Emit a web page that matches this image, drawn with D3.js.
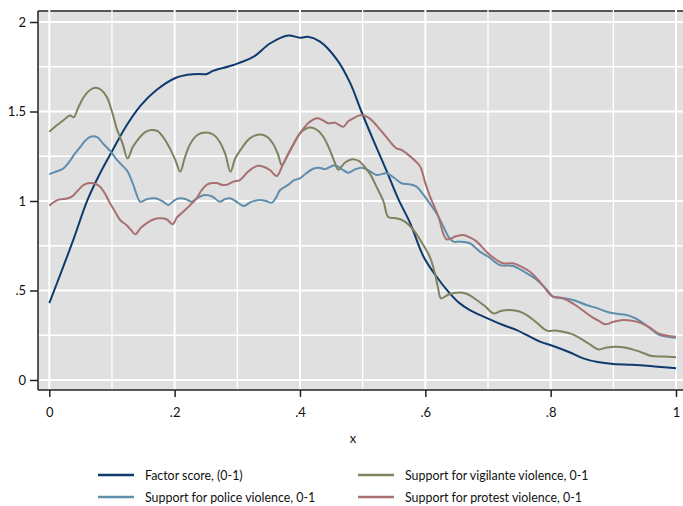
<!DOCTYPE html>
<html>
<head>
<meta charset="utf-8">
<script src="https://cdn.jsdelivr.net/npm/d3@7"></script>
<style>
  body { margin: 0; background: #fff; }
  text { font-family: Lato, "Open Sans", sans-serif; fill: #111; }
</style>
</head>
<body>
<div id="chart"></div>
<script>
// 読み取った値（x, y のペア）
const factorX = [0, 0.022, 0.04, 0.061, 0.081, 0.102, 0.123, 0.145, 0.171, 0.203, 0.22, 0.24, 0.25, 0.262, 0.294, 0.326, 0.352, 0.381, 0.40, 0.413, 0.432, 0.459, 0.48, 0.498, 0.517, 0.538, 0.557, 0.576, 0.597, 0.618, 0.639, 0.655, 0.671, 0.693, 0.724, 0.746, 0.783, 0.804, 0.83, 0.852, 0.875, 0.90, 0.93, 0.959, 1.0];
const factorY = [0.43, 0.63, 0.80, 1.006, 1.155, 1.29, 1.42, 1.53, 1.62, 1.69, 1.705, 1.71, 1.708, 1.728, 1.76, 1.806, 1.88, 1.925, 1.912, 1.918, 1.89, 1.79, 1.66, 1.50, 1.34, 1.17, 1.01, 0.875, 0.69, 0.577, 0.484, 0.428, 0.391, 0.354, 0.307, 0.279, 0.214, 0.19, 0.155, 0.121, 0.10, 0.089, 0.085, 0.078, 0.065];

const policeX = [0, 0.011, 0.022, 0.03, 0.04, 0.049, 0.058, 0.067, 0.077, 0.086, 0.097, 0.108, 0.116, 0.124, 0.133, 0.14, 0.145, 0.157, 0.169, 0.18, 0.19, 0.2, 0.209, 0.218, 0.227, 0.238, 0.248, 0.26, 0.272, 0.28, 0.288, 0.297, 0.31, 0.322, 0.336, 0.346, 0.355, 0.362, 0.368, 0.381, 0.39, 0.40, 0.41, 0.421, 0.432, 0.44, 0.456, 0.466, 0.477, 0.487, 0.498, 0.51, 0.522, 0.538, 0.55, 0.562, 0.575, 0.586, 0.596, 0.607, 0.618, 0.629, 0.637, 0.645, 0.655, 0.671, 0.687, 0.70, 0.719, 0.74, 0.76, 0.778, 0.795, 0.804, 0.82, 0.836, 0.857, 0.875, 0.895, 0.921, 0.935, 0.948, 0.962, 0.974, 1.0];
const policeY = [1.15, 1.165, 1.18, 1.21, 1.26, 1.30, 1.34, 1.36, 1.355, 1.32, 1.28, 1.23, 1.20, 1.17, 1.10, 1.03, 0.996, 1.012, 1.015, 1.0, 0.978, 1.005, 1.015, 1.01, 0.996, 1.02, 1.033, 1.025, 0.996, 1.01, 1.015, 1.0, 0.972, 0.995, 1.006, 1.0, 0.99, 1.02, 1.06, 1.09, 1.115, 1.127, 1.155, 1.18, 1.185, 1.178, 1.20, 1.18, 1.158, 1.175, 1.186, 1.17, 1.145, 1.155, 1.13, 1.099, 1.093, 1.08, 1.04, 0.987, 0.93, 0.857, 0.80, 0.773, 0.773, 0.764, 0.717, 0.69, 0.642, 0.637, 0.60, 0.559, 0.50, 0.465, 0.458, 0.447, 0.419, 0.40, 0.376, 0.363, 0.345, 0.317, 0.28, 0.251, 0.236];

const vigilanteX = [0, 0.011, 0.022, 0.033, 0.039, 0.046, 0.054, 0.063, 0.073, 0.083, 0.092, 0.100, 0.108, 0.117, 0.125, 0.133, 0.143, 0.153, 0.163, 0.173, 0.183, 0.193, 0.201, 0.209, 0.216, 0.225, 0.237, 0.25, 0.262, 0.272, 0.281, 0.289, 0.297, 0.308, 0.32, 0.335, 0.347, 0.357, 0.365, 0.371, 0.378, 0.387, 0.40, 0.41, 0.418, 0.428, 0.437, 0.447, 0.455, 0.461, 0.472, 0.483, 0.493, 0.501, 0.512, 0.522, 0.533, 0.541, 0.55, 0.56, 0.571, 0.581, 0.594, 0.607, 0.615, 0.62, 0.625, 0.637, 0.65, 0.665, 0.682, 0.696, 0.709, 0.72, 0.735, 0.75, 0.762, 0.778, 0.794, 0.807, 0.82, 0.835, 0.847, 0.862, 0.876, 0.89, 0.905, 0.92, 0.937, 0.95, 0.961, 0.98, 1.0];
const vigilanteY = [1.387, 1.42, 1.45, 1.477, 1.468, 1.52, 1.575, 1.615, 1.632, 1.62, 1.58, 1.50, 1.40, 1.32, 1.238, 1.30, 1.35, 1.385, 1.397, 1.39, 1.35, 1.29, 1.23, 1.164, 1.24, 1.32, 1.37, 1.382, 1.37, 1.33, 1.26, 1.164, 1.24, 1.30, 1.35, 1.372, 1.36, 1.32, 1.26, 1.20, 1.24, 1.30, 1.378, 1.405, 1.41, 1.395, 1.36, 1.29, 1.22, 1.175, 1.215, 1.233, 1.225, 1.20, 1.15, 1.08, 1.00, 0.91, 0.905, 0.898, 0.875, 0.838, 0.77, 0.689, 0.60, 0.52, 0.456, 0.478, 0.488, 0.483, 0.447, 0.41, 0.372, 0.385, 0.391, 0.383, 0.363, 0.32, 0.276, 0.277, 0.27, 0.255, 0.233, 0.20, 0.171, 0.182, 0.186, 0.18, 0.164, 0.148, 0.134, 0.131, 0.127];

const protestX = [0, 0.014, 0.03, 0.038, 0.046, 0.055, 0.065, 0.074, 0.081, 0.089, 0.097, 0.105, 0.113, 0.123, 0.13, 0.137, 0.146, 0.155, 0.165, 0.174, 0.187, 0.197, 0.204, 0.211, 0.222, 0.235, 0.243, 0.251, 0.259, 0.267, 0.276, 0.283, 0.294, 0.304, 0.316, 0.325, 0.333, 0.343, 0.352, 0.363, 0.371, 0.379, 0.39, 0.40, 0.413, 0.421, 0.429, 0.437, 0.445, 0.456, 0.469, 0.477, 0.485, 0.498, 0.508, 0.517, 0.525, 0.533, 0.544, 0.554, 0.562, 0.57, 0.582, 0.592, 0.6, 0.607, 0.621, 0.634, 0.65, 0.661, 0.672, 0.682, 0.703, 0.724, 0.74, 0.755, 0.767, 0.785, 0.802, 0.815, 0.826, 0.845, 0.863, 0.877, 0.887, 0.9, 0.916, 0.937, 0.955, 0.974, 1.0];
const protestY = [0.974, 1.006, 1.015, 1.03, 1.06, 1.09, 1.10, 1.095, 1.08, 1.04, 0.987, 0.94, 0.894, 0.866, 0.84, 0.814, 0.85, 0.875, 0.895, 0.903, 0.898, 0.87, 0.91, 0.931, 0.968, 1.015, 1.06, 1.09, 1.10, 1.10, 1.09, 1.09, 1.108, 1.117, 1.16, 1.185, 1.197, 1.19, 1.173, 1.14, 1.19, 1.248, 1.32, 1.378, 1.434, 1.455, 1.462, 1.45, 1.434, 1.437, 1.415, 1.445, 1.462, 1.48, 1.468, 1.443, 1.41, 1.378, 1.33, 1.294, 1.285, 1.266, 1.23, 1.192, 1.10, 1.03, 0.912, 0.786, 0.804, 0.81, 0.795, 0.773, 0.698, 0.652, 0.652, 0.63, 0.605, 0.54, 0.469, 0.46, 0.447, 0.405, 0.358, 0.33, 0.311, 0.325, 0.335, 0.326, 0.30, 0.257, 0.242];

const seriesNames = ["Factor score, (0-1)", "Support for police violence, 0-1", "Support for vigilante violence, 0-1", "Support for protest violence, 0-1"];
const seriesColors = ["#0e3a6e", "#5e8eac", "#80825f", "#a97071"];

const xTicks = [0, 0.2, 0.4, 0.6, 0.8, 1];
const xTickLabels = ["0", ".2", ".4", ".6", ".8", "1"];
const xMinor = [0.1, 0.3, 0.5, 0.7, 0.9];
const yTicks = [0, 0.5, 1, 1.5, 2];
const yTickLabels = ["0", ".5", "1", "1.5", "2"];
const yMinor = [0.25, 0.75, 1.25, 1.75];

// サイズ
const width = 683;
const height = 506;
const plotLeft = 38, plotTop = 11, plotRight = 683, plotBottom = 390;

const svg = d3.select("#chart").append("svg")
    .attr("width", width)
    .attr("height", height);

const x = d3.scaleLinear().domain([0, 1]).range([49.3, 676]);
const y = d3.scaleLinear().domain([0, 2]).range([380, 22]);

// 背景
svg.append("rect")
    .attr("x", plotLeft).attr("y", plotTop)
    .attr("width", plotRight - plotLeft).attr("height", plotBottom - plotTop)
    .attr("fill", "#e0e0e0");

// 上の枠線
svg.append("line")
    .attr("x1", plotLeft).attr("x2", plotRight)
    .attr("y1", plotTop).attr("y2", plotTop)
    .attr("stroke", "#222").attr("stroke-width", 1.5);

// グリッド
const grid = svg.append("g");
grid.selectAll(".vmin").data(xMinor).enter().append("line")
    .attr("x1", d => x(d)).attr("x2", d => x(d))
    .attr("y1", plotTop - 1).attr("y2", plotBottom)
    .attr("stroke", "#fff").attr("stroke-width", 1.3);
grid.selectAll(".vmaj").data(xTicks).enter().append("line")
    .attr("x1", d => x(d)).attr("x2", d => x(d))
    .attr("y1", plotTop - 1).attr("y2", plotBottom)
    .attr("stroke", "#fff").attr("stroke-width", 2);
grid.selectAll(".hmin").data(yMinor).enter().append("line")
    .attr("x1", plotLeft).attr("x2", plotRight)
    .attr("y1", d => y(d)).attr("y2", d => y(d))
    .attr("stroke", "#fff").attr("stroke-width", 1.3);
grid.selectAll(".hmaj").data(yTicks).enter().append("line")
    .attr("x1", plotLeft).attr("x2", plotRight)
    .attr("y1", d => y(d)).attr("y2", d => y(d))
    .attr("stroke", "#fff").attr("stroke-width", 2);

// 線
const seriesData = [
    d3.zip(factorX, factorY),
    d3.zip(policeX, policeY),
    d3.zip(vigilanteX, vigilanteY),
    d3.zip(protestX, protestY)
];
const line = d3.line()
    .x(d => x(d[0]))
    .y(d => y(d[1]))
    .curve(d3.curveCatmullRom.alpha(0.5));

seriesData.forEach((pts, i) => {
    svg.append("path")
        .datum(pts)
        .attr("d", line)
        .attr("fill", "none")
        .attr("stroke", seriesColors[i])
        .attr("stroke-width", 2)
        .attr("stroke-linejoin", "round");
});

// 軸
const xAxis = d3.axisBottom(x).tickValues(xTicks)
    .tickFormat((d, i) => xTickLabels[i]).tickSize(7).tickPadding(11);
const gx = svg.append("g").attr("transform", `translate(0,${plotBottom})`).call(xAxis);
gx.select(".domain").remove();
gx.append("line").attr("x1", plotLeft).attr("x2", plotRight)
    .attr("stroke", "#222").attr("stroke-width", 1.5);

const yAxis = d3.axisLeft(y).tickValues(yTicks)
    .tickFormat((d, i) => yTickLabels[i]).tickSize(8).tickPadding(4);
const gy = svg.append("g").attr("transform", `translate(${plotLeft},0)`).call(yAxis);
gy.select(".domain").remove();
gy.append("line").attr("y1", plotTop).attr("y2", plotBottom)
    .attr("stroke", "#222").attr("stroke-width", 1.5);

svg.selectAll(".tick line").attr("stroke", "#222").attr("stroke-width", 1.5);
svg.selectAll(".tick text").style("font-family", "Lato, sans-serif").style("font-size", "13px").attr("fill", "#111");

// x軸タイトル
svg.append("text")
    .attr("x", 353).attr("y", 443)
    .attr("text-anchor", "middle")
    .style("font-size", "13px")
    .text("x");

// 凡例
const legendPos = [[98, 475], [98, 497], [358, 475], [358, 497]];
seriesNames.forEach((name, i) => {
    const [lx, ly] = legendPos[i];
    svg.append("line")
        .attr("x1", lx).attr("x2", lx + 36)
        .attr("y1", ly).attr("y2", ly)
        .attr("stroke", seriesColors[i]).attr("stroke-width", 2.5);
    svg.append("text")
        .attr("x", lx + 47).attr("y", ly + 4.5)
        .style("font-size", "12.4px")
        .text(name);
});
</script>
</body>
</html>
